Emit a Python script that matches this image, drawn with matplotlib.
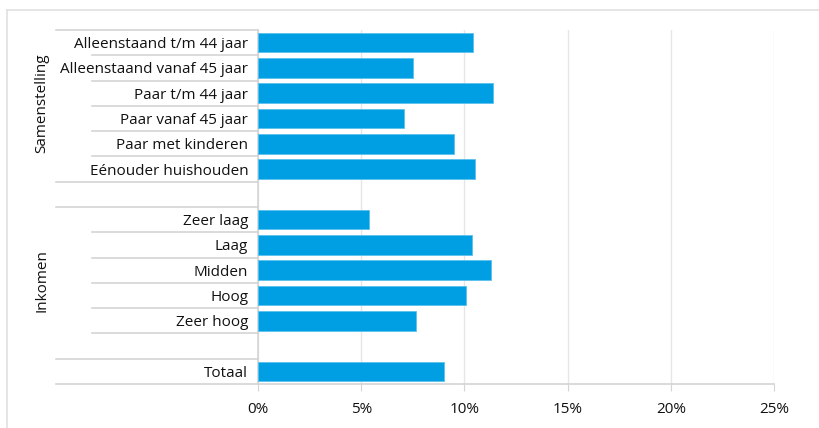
import matplotlib.pyplot as plt
from matplotlib.lines import Line2D

plt.rcParams['font.family'] = ['Open Sans', 'DejaVu Sans']

# rows top to bottom, '' = empty spacer row
labels = ['Alleenstaand t/m 44 jaar', 'Alleenstaand vanaf 45 jaar', 'Paar t/m 44 jaar',
          'Paar vanaf 45 jaar', 'Paar met kinderen', 'Eénouder huishouden', '',
          'Zeer laag', 'Laag', 'Midden', 'Hoog', 'Zeer hoog', '', 'Totaal']
values = [10.4, 7.5, 11.4, 7.05, 9.5, 10.5, None,
          5.4, 10.35, 11.3, 10.1, 7.65, None, 9.0]
groups = ['Samenstelling', 'Inkomen']
xticks = [0, 5, 10, 15, 20, 25]

W, H = 819, 428
fig = plt.figure(figsize=(W / 100, H / 100), dpi=100)
ax = fig.add_axes([258 / W, 1 - 384 / H, (774 - 258) / W, (384 - 30) / H])

grid_c = '#e6e6e6'
line_c = '#d4d4d4'
text_c = '#111111'
blue = '#009fe3'
fs = 11

for i, v in enumerate(values):
    if v is None:
        continue
    ax.barh(i, v, height=0.77, color=blue, edgecolor='#5cc0ec', linewidth=0.6, zorder=3)

ax.set_xlim(0, 25)
ax.set_ylim(len(labels) - 0.5, -0.5)
ax.set_xticks(xticks)
ax.set_xticklabels([f'{t}%' for t in xticks], fontsize=fs, color=text_c)
ax.set_yticks(range(len(labels)))
ax.set_yticklabels(labels, fontsize=fs, color=text_c)
ax.tick_params(axis='y', length=0, pad=7)
ax.tick_params(axis='x', length=5, color=line_c, pad=8)
ax.xaxis.grid(True, color=grid_c, linewidth=1, zorder=0)

for s in ['top', 'right']:
    ax.spines[s].set_visible(False)
for s in ['left', 'bottom']:
    ax.spines[s].set_color(line_c)
    ax.spines[s].set_linewidth(1.2)

# row separators at the left (long ones at group boundaries)
trans = ax.get_yaxis_transform()
long_x = (56 - 258) / 516
short_x = (92 - 258) / 516
long_rows = [-0.5, 5.5, 6.5, 12.5, 13.5]
for k in range(len(labels) + 1):
    y = k - 0.5
    x0 = long_x if y in long_rows else short_x
    ax.plot([x0, 0], [y, y], color=line_c, linewidth=1.2, transform=trans, clip_on=False)

gx = (42 - 258) / 516
ax.text(gx, 2.4, groups[0], rotation=90, ha='center', va='center', fontsize=fs,
        color=text_c, transform=trans)
ax.text(gx, 9.4, groups[1], rotation=90, ha='center', va='center', fontsize=fs,
        color=text_c, transform=trans)

# outer frame (top and left only)
fig.add_artist(Line2D([7 / W, 1], [1 - 10 / H, 1 - 10 / H], color='#e0e0e0', linewidth=1.2))
fig.add_artist(Line2D([7 / W, 7 / W], [0, 1 - 10 / H], color='#e0e0e0', linewidth=1.2))

fig.savefig('out.png', dpi=100)
